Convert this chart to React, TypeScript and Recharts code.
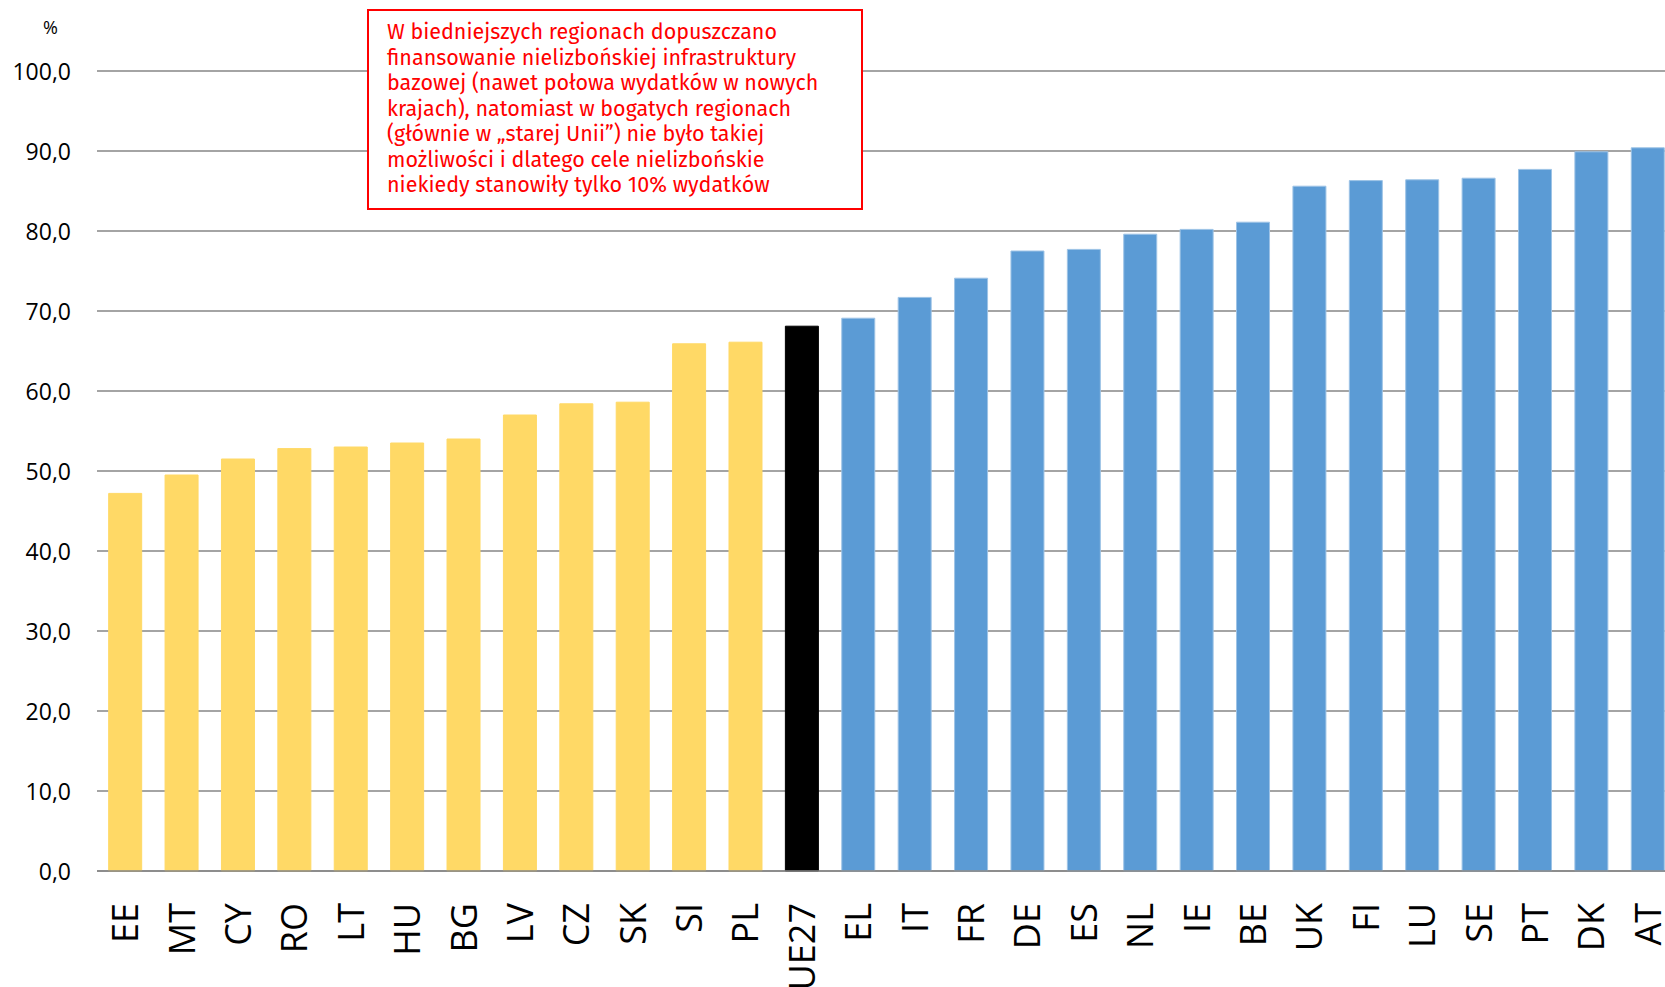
import React from 'react';
import { BarChart, Bar, XAxis, YAxis, CartesianGrid, Cell } from 'recharts';

const categories = ['EE', 'MT', 'CY', 'RO', 'LT', 'HU', 'BG', 'LV', 'CZ', 'SK', 'SI', 'PL', 'UE27', 'EL', 'IT', 'FR', 'DE', 'ES', 'NL', 'IE', 'BE', 'UK', 'FI', 'LU', 'SE', 'PT', 'DK', 'AT'];
const values = [47.2, 49.5, 51.5, 52.8, 53.0, 53.5, 54.0, 57.0, 58.4, 58.6, 65.9, 66.1, 68.1, 69.1, 71.7, 74.1, 77.5, 77.7, 79.6, 80.2, 81.1, 85.6, 86.3, 86.4, 86.6, 87.7, 89.9, 90.4];
const groups = ['new', 'new', 'new', 'new', 'new', 'new', 'new', 'new', 'new', 'new', 'new', 'new', 'eu', 'old', 'old', 'old', 'old', 'old', 'old', 'old', 'old', 'old', 'old', 'old', 'old', 'old', 'old', 'old'];
const yTicks = [0, 10, 20, 30, 40, 50, 60, 70, 80, 90, 100];
const noteLines = [
  'W biedniejszych regionach dopuszczano',
  'finansowanie nielizbońskiej infrastruktury',
  'bazowej (nawet połowa wydatków w nowych',
  'krajach), natomiast w bogatych regionach',
  '(głównie w „starej Unii”) nie było takiej',
  'możliwości i dlatego cele nielizbońskie',
  'niekiedy stanowiły tylko 10% wydatków',
];

const FILL: Record<string, string> = { new: '#FFD966', eu: '#000000', old: '#5B9BD5' };
const STROKE: Record<string, string> = { new: '#FFD966', eu: '#000000', old: '#9DC3E6' };

const data = categories.map((name, i) => ({ name, value: values[i], group: groups[i] }));

const font = '"Open Sans", "Noto Sans", sans-serif';

const YTick = (props: any) => {
  const { y, payload } = props;
  return (
    <text x={71} y={y} textAnchor="end" dominantBaseline="central" fontSize={23} fontFamily={font} fill="#000">
      {Number(payload.value).toFixed(1).replace('.', ',')}
    </text>
  );
};

const XTick = (props: any) => {
  const { x, payload } = props;
  return (
    <text transform={`translate(${x},903) rotate(-90)`} textAnchor="end" dy="0.36em" fontSize={36} fontFamily={font} fill="#000">
      {payload.value}
    </text>
  );
};

export default function App() {
  return (
    <div style={{ position: 'absolute', left: 0, top: 0, width: 1665, height: 987, overflow: 'hidden', background: '#fff' }}>
      <BarChart width={1676} height={987} data={data} margin={{ top: 71, right: 0, bottom: 0, left: 0 }} barCategoryGap="20.7%">
        <CartesianGrid vertical={false} stroke="#868686" strokeWidth={1.5} />
        <XAxis dataKey="name" height={116} interval={0} tickLine={false} axisLine={{ stroke: '#868686', strokeWidth: 1.5 }} tick={<XTick />} />
        <YAxis width={97} domain={[0, 100]} ticks={yTicks} axisLine={false} tickLine={false} tick={<YTick />} />
        <Bar dataKey="value" isAnimationActive={false}>
          {data.map((d, i) => (
            <Cell key={`c-${i}`} fill={FILL[d.group]} stroke={STROKE[d.group]} strokeWidth={1} />
          ))}
        </Bar>
      </BarChart>
      <div style={{ position: 'absolute', left: 43, top: 15, fontFamily: font, fontSize: 18, lineHeight: '24px' }}>%</div>
      <div
        style={{
          position: 'absolute',
          left: 367,
          top: 9,
          width: 496,
          height: 201,
          boxSizing: 'border-box',
          border: '2px solid #FF0000',
          background: '#fff',
          padding: '9px 0 0 18px',
          fontFamily: '"Fira Sans", "Open Sans", sans-serif',
          fontSize: 21.5,
          lineHeight: '25.5px',
          color: '#FF0000',
          whiteSpace: 'nowrap',
        }}
      >
        {noteLines.map((l, i) => (
          <div key={i}>{l}</div>
        ))}
      </div>
    </div>
  );
}
